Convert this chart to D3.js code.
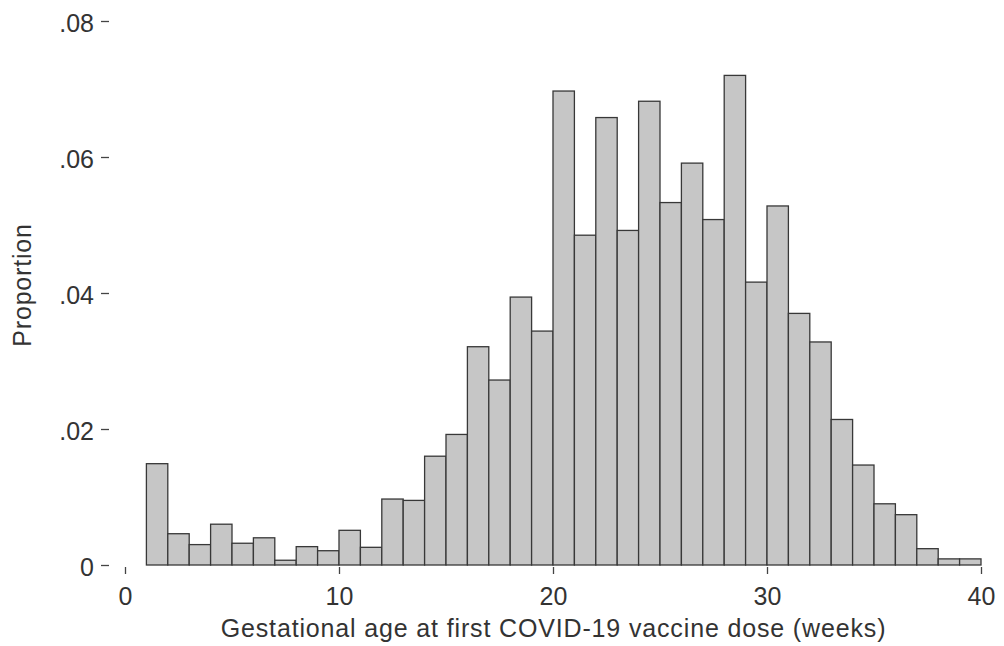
<!DOCTYPE html>
<html>
<head>
<meta charset="utf-8">
<script src="https://cdn.jsdelivr.net/npm/d3@7"></script>
<style>
  body { margin: 0; background: #fff; }
  text { font-family: "Liberation Sans", Arial, sans-serif; fill: #333; }
</style>
</head>
<body>
<svg id="chart" width="1004" height="646"></svg>
<script>
// bins de 1 semaine, de 1 à 40
const binStarts = d3.range(1, 40);
const proportions = [
  0.0149, 0.0046, 0.0030, 0.0060, 0.0032, 0.0040, 0.0007, 0.0027, 0.0021, 0.0051,
  0.0026, 0.0097, 0.0095, 0.0160, 0.0192, 0.0321, 0.0272, 0.0394, 0.0344, 0.0697,
  0.0485, 0.0658, 0.0492, 0.0682, 0.0533, 0.0591, 0.0508, 0.0720, 0.0416, 0.0528,
  0.0370, 0.0328, 0.0214, 0.0147, 0.0090, 0.0074, 0.0024, 0.0009, 0.0009
];
const xTicks = [0, 10, 20, 30, 40];
const yTicks = [0, 0.02, 0.04, 0.06, 0.08];

const svg = d3.select("#chart");

const x = d3.scaleLinear().domain([0, 40]).range([125, 981]);
const y = d3.scaleLinear().domain([0, 0.08]).range([565, 21]);

const data = binStarts.map((b, i) => ({ start: b, value: proportions[i] }));

// barres
svg.selectAll(".bar")
  .data(data)
  .enter()
  .append("rect")
  .attr("class", "bar")
  .attr("x", d => x(d.start))
  .attr("y", d => y(d.value))
  .attr("width", d => x(d.start + 1) - x(d.start))
  .attr("height", d => y(0) - y(d.value))
  .attr("fill", "#c6c6c6")
  .attr("stroke", "#383838")
  .attr("stroke-width", 1.3);

// axe X
const gx = svg.append("g")
  .attr("transform", `translate(0,${y(0) + 2})`)
  .call(d3.axisBottom(x).tickValues(xTicks).tickSize(7).tickPadding(13).tickFormat(d3.format("d")));
gx.select(".domain").remove();
gx.selectAll("line").attr("stroke", "#444").attr("stroke-width", 1.3);
gx.selectAll("text").style("font-size", "25px").attr("fill", "#333");

// axe Y
const yFmt = d => d === 0 ? "0" : d3.format(".2f")(d).replace(/^0/, "");
const gy = svg.append("g")
  .attr("transform", "translate(109,0)")
  .call(d3.axisLeft(y).tickValues(yTicks).tickSize(8).tickPadding(7).tickFormat(yFmt));
gy.select(".domain").remove();
gy.selectAll("line").attr("stroke", "#444").attr("stroke-width", 1.3);
gy.selectAll("text").style("font-size", "25px").attr("fill", "#333").attr("dy", "0.4em");

// titres
svg.append("text")
  .attr("x", 553.5)
  .attr("y", 637)
  .attr("text-anchor", "middle")
  .style("font-size", "25px")
  .style("letter-spacing", "0.85px")
  .text("Gestational age at first COVID-19 vaccine dose (weeks)");

svg.append("text")
  .attr("transform", "translate(31,285) rotate(-90)")
  .attr("text-anchor", "middle")
  .style("font-size", "25px")
  .style("letter-spacing", "0.8px")
  .text("Proportion");
</script>
</body>
</html>
